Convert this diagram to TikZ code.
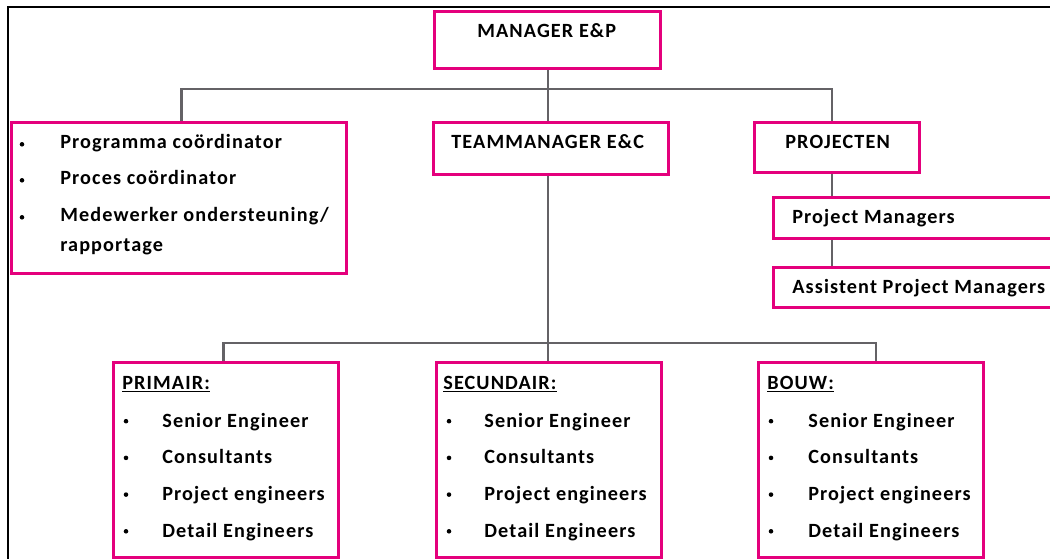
\documentclass[tikz,border=0pt]{standalone}
\usepackage{fontspec}
\setmainfont{Carlito}[LetterSpace=5.5]
\usetikzlibrary{positioning}
\definecolor{ebpink}{RGB}{228,0,124}
\definecolor{ebgray}{RGB}{100,98,102}
\begin{document}
\begin{tikzpicture}[x=0.02cm,y=-0.02cm]
\tikzstyle{box} = [draw=ebpink, line width=1.7pt, fill=white, anchor=north west, inner sep=0pt]
\tikzstyle{txt} = [anchor=base west, inner sep=0pt, font=\bfseries\fontsize{11.5}{13}\selectfont]
\tikzstyle{dot} = [circle, fill, inner sep=0pt, minimum size=2.6pt]
\tikzstyle{link} = [draw=ebgray, line width=1.4pt]
\useasboundingbox (0,0) rectangle (1050,558);
% outer frame
\draw[line width=1.3pt] (8,600) |- (1100,7);
% boxes
\node[box, minimum width=4.52cm, minimum height=1.14cm] (mgr) at (433,10) {};
\node[box, minimum width=6.7cm, minimum height=3.02cm] (staf) at (10,121) {};
\node[box, minimum width=4.7cm, minimum height=1.04cm] (tm) at (432,121) {};
\node[box, minimum width=3.3cm, minimum height=1.0cm] (proj) at (753,121) {};
\node[box, minimum width=6cm, minimum height=0.82cm] (pm) at (772,196) {};
\node[box, minimum width=6cm, minimum height=0.8cm] (apm) at (772,266) {};
\node[box, minimum width=4.5cm, minimum height=3.9cm] (prim) at (112,361) {};
\node[box, minimum width=4.5cm, minimum height=3.9cm] (sec) at (435,361) {};
\node[box, minimum width=4.5cm, minimum height=3.9cm] (bouw) at (757,361) {};
% connectors
\coordinate (bus1) at (548,89);
\coordinate (bus2) at (548,343);
\coordinate (projx) at (832,0);
\draw[link] (bus1 |- mgr.south) -- (bus1 |- tm.north);
\draw[link] ([xshift=0.05cm]staf.north) |- (bus1) -| (projx |- proj.north);
\draw[link] (bus2 |- tm.south) -- (bus2 |- sec.north);
\draw[link] ([xshift=-0.05cm]prim.north) |- (bus2) -| ([xshift=0.1cm]bouw.north);
\draw[link] (projx |- proj.south) -- (projx |- pm.north);
\draw[link] (projx |- pm.south) -- (projx |- apm.north);
% titles
\node[txt] (mgr-t) at (477,37) {MANAGER E\&P};
\node[txt] (tm-t) at (451,148) {TEAMMANAGER E\&C};
\node[txt] (proj-t) at (785,148) {PROJECTEN};
\node[txt] (pm-t) at (792,223) {Project Managers};
\node[txt] (apm-t) at (792,293) {Assistent Project Managers};
% staff list
\foreach \item/\y [count=\i] in {Programma coördinator/148, Proces coördinator/184, {Medewerker ondersteuning/}/221} {
  \node[dot] (staf-b\i) at (22,\y-3.7) {};
  \node[txt] (staf-t\i) at (60,\y) {\item};
}
\node[txt] (staf-t4) at (60,251) {rapportage};
% departments
\foreach \nm/\hx/\bx/\tx in {PRIMAIR/122/126/162, SECUNDAIR/443/449/484, BOUW/767/771/808} {
  \node[txt] (\nm-h) at (\hx,389) {\underline{\nm:}};
  \foreach \item [count=\i] in {Senior Engineer, Consultants, Project engineers, Detail Engineers} {
    \node[dot] (\nm-b\i) at (\bx,{384.5+36.7*\i}) {};
    \node[txt] (\nm-t\i) at (\tx,{390.3+36.7*\i}) {\item};
  }
}
\end{tikzpicture}
\end{document}
